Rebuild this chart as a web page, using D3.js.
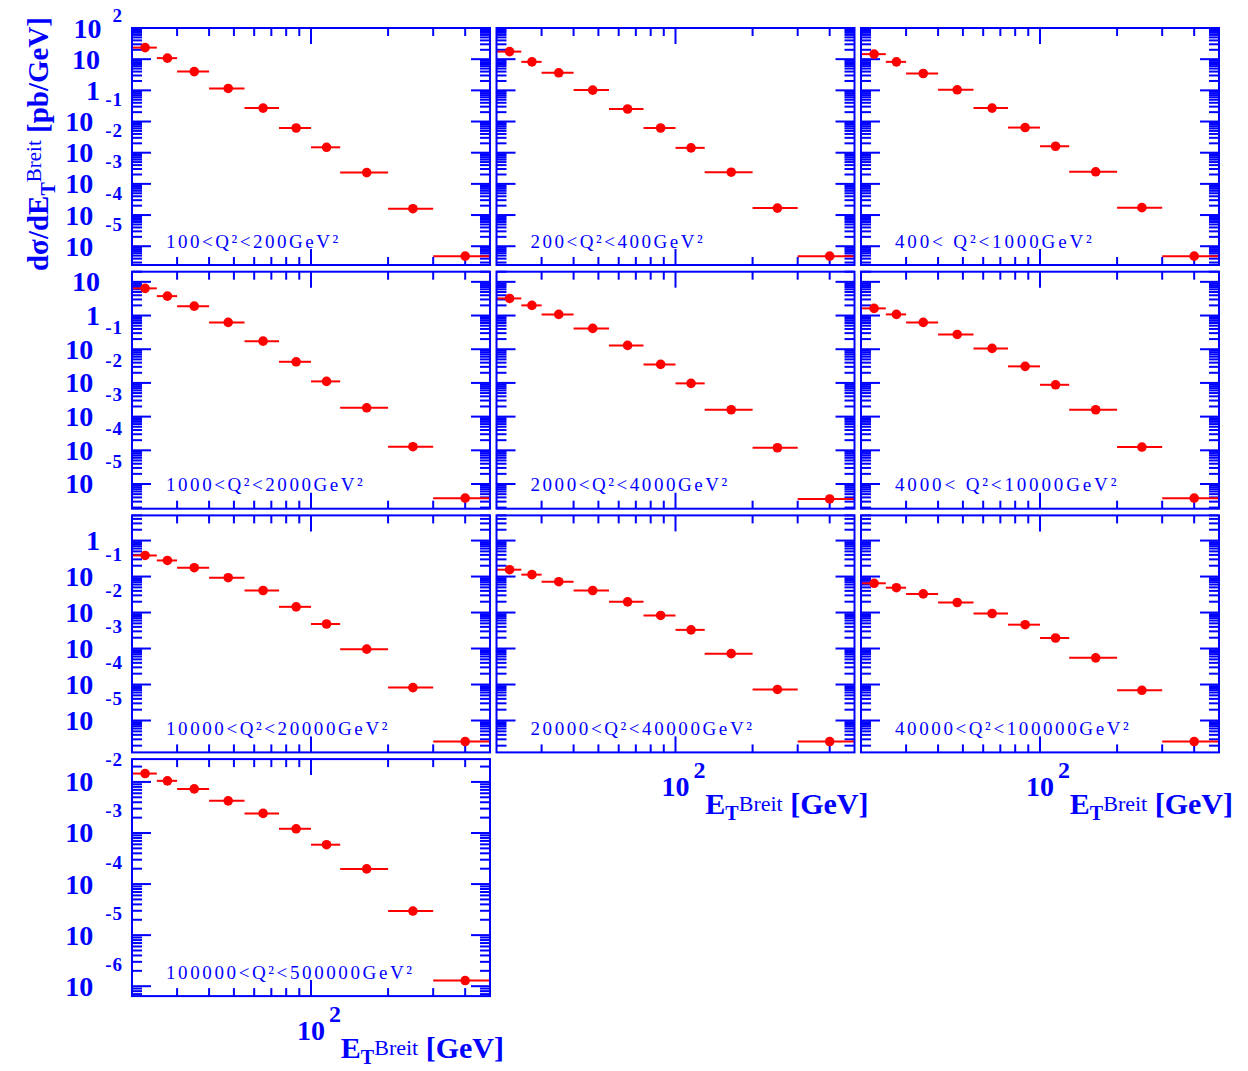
<!DOCTYPE html>
<html>
<head>
<meta charset="utf-8">
<script src="https://cdn.jsdelivr.net/npm/d3@7"></script>
<style>
  html, body { margin: 0; padding: 0; background: #ffffff; }
  svg { display: block; }
</style>
</head>
<body>
<svg id="chart" width="1248" height="1071"></svg>
<script>
// Jet E_T (Breit frame) bins in GeV, shared by every Q^2 slice
const binEdges = [20, 25, 30, 40, 55, 75, 100, 130, 200, 300, 500];
const binMeans = [22.5, 27.5, 35, 47.5, 65, 87.5, 115, 165, 250, 400];

// Q^2 slice captions
const q2Labels = [
  "100<Q²<200GeV²", "200<Q²<400GeV²", "400< Q²<1000GeV²",
  "1000<Q²<2000GeV²", "2000<Q²<4000GeV²", "4000< Q²<10000GeV²",
  "10000<Q²<20000GeV²", "20000<Q²<40000GeV²", "40000<Q²<100000GeV²",
  "100000<Q²<500000GeV²"
];

// dσ/dE_T [pb/GeV] per slice
const xsecQ2_100_200     = [23.5, 10.8, 4.0, 1.15, 0.27, 0.062, 0.0149, 0.0023, 1.6e-4, 4.8e-6];
const xsecQ2_200_400     = [17.5, 8.2, 3.65, 1.02, 0.252, 0.062, 0.0143, 0.00237, 1.67e-4, 4.8e-6];
const xsecQ2_400_1000    = [14.5, 8.2, 3.47, 1.04, 0.27, 0.064, 0.0161, 0.00244, 1.73e-4, 4.8e-6];
const xsecQ2_1000_2000   = [6.4, 3.77, 1.9, 0.625, 0.174, 0.0424, 0.0111, 0.00183, 1.28e-4, 3.8e-6];
const xsecQ2_2000_4000   = [3.22, 2.0, 1.08, 0.415, 0.13, 0.0355, 0.0097, 0.0016, 1.19e-4, 3.6e-6];
const xsecQ2_4000_10000  = [1.63, 1.08, 0.625, 0.275, 0.106, 0.031, 0.0088, 0.0016, 1.25e-4, 3.8e-6];
const xsecQ2_10k_20k     = [0.385, 0.28, 0.176, 0.093, 0.041, 0.0144, 0.0048, 9.6e-4, 8.2e-5, 2.6e-6];
const xsecQ2_20k_40k     = [0.155, 0.113, 0.072, 0.041, 0.0198, 0.0083, 0.0033, 7.2e-4, 7.3e-5, 2.6e-6];
const xsecQ2_40k_100k    = [0.065, 0.049, 0.0329, 0.019, 0.0094, 0.0046, 0.00196, 5.5e-4, 6.9e-5, 2.6e-6];
const xsecQ2_100k_500k   = [0.0146, 0.0105, 0.0073, 0.00426, 0.00242, 0.00121, 5.9e-4, 1.98e-4, 2.96e-5, 1.29e-6];

const slices = [
  xsecQ2_100_200, xsecQ2_200_400, xsecQ2_400_1000,
  xsecQ2_1000_2000, xsecQ2_2000_4000, xsecQ2_4000_10000,
  xsecQ2_10k_20k, xsecQ2_20k_40k, xsecQ2_40k_100k,
  xsecQ2_100k_500k
];

// axis ranges: x shared, y shared along each row
const xDomain = [20, 500];
const rowYDomains = [[2.5e-6, 100], [1.85e-6, 20], [1.3e-6, 5], [6.4e-7, 0.028]];
const xLabelValue = 100;

// ---- layout ----
const W = 358, H = 237;
const left0 = 132, top0 = 28, colStep = 364.5, rowStep = 243.7;
const BLUE = "#0000ff", RED = "#ff0000";
const SERIF = "'Liberation Serif', 'Times New Roman', Times, serif";

const svg = d3.select("#chart");

function isDecade(t) {
  const l = Math.log10(t);
  return Math.abs(l - Math.round(l)) < 1e-9;
}

slices.forEach((vals, i) => {
  const row = Math.floor(i / 3), col = i % 3;
  const px = left0 + col * colStep, py = top0 + row * rowStep;
  const g = svg.append("g").attr("transform", `translate(${px},${py})`);

  const x = d3.scaleLog().domain(xDomain).range([0, W]);
  const y = d3.scaleLog().domain(rowYDomains[row]).range([H, 0]);

  // y ticks on both sides (1..9 per decade)
  const yt = y.ticks(20);
  const tg = g.append("g").attr("stroke", BLUE).attr("stroke-width", 2);
  yt.forEach(t => {
    const len = isDecade(t) ? 19 : 10;
    const yy = y(t);
    tg.append("line").attr("x1", 0).attr("x2", len).attr("y1", yy).attr("y2", yy);
    tg.append("line").attr("x1", W - len).attr("x2", W).attr("y1", yy).attr("y2", yy);
  });

  // x ticks on top and bottom
  const xt = x.ticks().filter(t => t > xDomain[0] && t < xDomain[1]);
  xt.forEach(t => {
    const len = isDecade(t) ? 16 : 8;
    const xx = x(t);
    tg.append("line").attr("x1", xx).attr("x2", xx).attr("y1", 0).attr("y2", len);
    tg.append("line").attr("x1", xx).attr("x2", xx).attr("y1", H - len).attr("y2", H);
  });

  // data: bin-width bars and markers
  const dg = g.append("g");
  vals.forEach((v, j) => {
    dg.append("line")
      .attr("x1", x(binEdges[j])).attr("x2", x(binEdges[j + 1]))
      .attr("y1", y(v)).attr("y2", y(v))
      .attr("stroke", RED).attr("stroke-width", 2);
    dg.append("circle")
      .attr("cx", x(binMeans[j])).attr("cy", y(v)).attr("r", 4.8)
      .attr("fill", RED);
  });

  // frame
  g.append("rect").attr("x", 0).attr("y", 0).attr("width", W).attr("height", H)
    .attr("fill", "none").attr("stroke", BLUE).attr("stroke-width", 2);

  // slice caption
  const cap = q2Labels[i];
  g.append("text")
    .attr("x", 34).attr("y", H - 24)
    .attr("dominant-baseline", "central")
    .attr("font-family", SERIF).attr("font-size", 19)
    .attr("fill", BLUE)
    .attr("textLength", cap.length * 12.3)
    .attr("lengthAdjust", "spacing")
    .text(cap);

  // y tick labels on the left column
  if (col === 0) {
    const lg = g.append("g").attr("fill", BLUE).attr("font-family", SERIF).attr("font-weight", "bold");
    yt.filter(isDecade).forEach(t => {
      const e = Math.round(Math.log10(t));
      const yy = y(t);
      if (e === 0 || e === 1) {
        lg.append("text").attr("x", -32).attr("y", yy)
          .attr("text-anchor", "end").attr("dominant-baseline", "central")
          .attr("font-size", 28).text(e === 0 ? "1" : "10");
      } else {
        const sup = lg.append("text").attr("x", -9).attr("y", yy - (e > 0 ? 13 : 22))
          .attr("text-anchor", "end").attr("dominant-baseline", "central")
          .attr("font-size", 19).attr("letter-spacing", 1).text(String(e));
        const sw = sup.node().getComputedTextLength();
        lg.append("text").attr("x", -9 - sw - (e > 0 ? 11 : 12)).attr("y", yy)
          .attr("text-anchor", "end").attr("dominant-baseline", "central")
          .attr("font-size", 28).text("10");
      }
    });
  }

  // x axis label under panels with nothing below them
  if (i + 3 >= slices.length) {
    const xg = g.append("g").attr("fill", BLUE).attr("font-family", SERIF).attr("font-weight", "bold");
    const xm = x(xLabelValue);
    xg.append("text").attr("x", xm).attr("y", H + 34)
      .attr("text-anchor", "middle").attr("dominant-baseline", "central")
      .attr("font-size", 28).text("10");
    xg.append("text").attr("x", xm + 18).attr("y", H + 18)
      .attr("text-anchor", "start").attr("dominant-baseline", "central")
      .attr("font-size", 24).text("2");

    const tt = xg.append("text").attr("x", W + 14).attr("y", H + 62)
      .attr("text-anchor", "end");
    tt.append("tspan").attr("font-size", 30).text("E");
    tt.append("tspan").attr("font-size", 20).attr("dy", 6).text("T");
    tt.append("tspan").attr("font-size", 22).attr("font-weight", "normal").attr("dy", -9).text("Breit");
    tt.append("tspan").attr("font-size", 30).attr("dy", 3).text(" [GeV]");
  }
});

// y axis title
const yTitle = svg.append("text")
  .attr("transform", "translate(48,144) rotate(-90)")
  .attr("text-anchor", "middle")
  .attr("fill", BLUE).attr("font-family", SERIF).attr("font-weight", "bold");
yTitle.append("tspan").attr("font-size", 29).text("dσ/dE");
yTitle.append("tspan").attr("font-size", 20).attr("dy", 7).text("T");
yTitle.append("tspan").attr("font-size", 21).attr("font-weight", "normal").attr("dy", -14).text("Breit");
yTitle.append("tspan").attr("font-size", 29).attr("dy", 7).text(" [pb/GeV]");
</script>
</body>
</html>
